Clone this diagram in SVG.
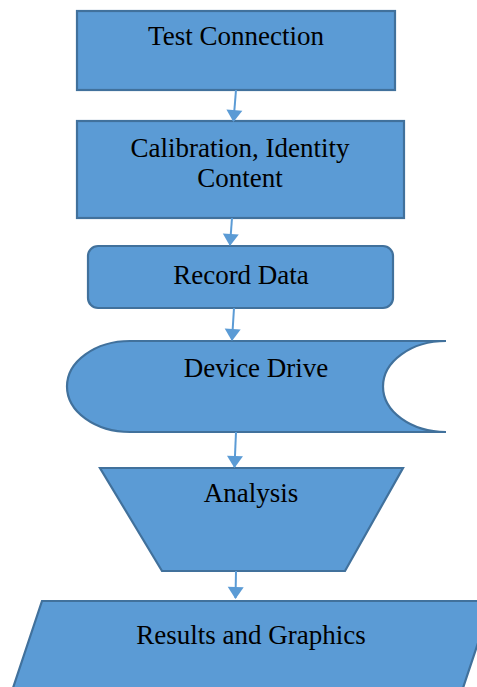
<svg xmlns="http://www.w3.org/2000/svg" width="477" height="687" viewBox="0 0 477 687">
  <style>
    .shape { fill: #5B9BD5; stroke: #41719C; stroke-width: 2.2; }
    .label { font-family: "Liberation Serif", "Times New Roman", serif; font-size: 27px; fill: #000; text-anchor: middle; }
    .link { stroke: #5B9BD5; stroke-width: 2; fill: none; marker-end: url(#arrow); }
  </style>
  <defs>
    <marker id="arrow" markerUnits="userSpaceOnUse" markerWidth="12" markerHeight="16" refX="11" refY="8" orient="auto" overflow="visible">
      <path d="M0,0 L12,8 L0,16 Z" fill="#5B9BD5"/>
    </marker>
  </defs>
  <rect width="477" height="687" fill="#fff"/>

  <g id="test-connection">
    <rect class="shape" x="77" y="11" width="318" height="79"/>
    <text class="label" x="236" y="45">Test Connection</text>
  </g>

  <g id="calibration">
    <rect class="shape" x="77" y="121" width="327" height="97"/>
    <text class="label" x="240" y="157">Calibration, Identity</text>
    <text class="label" x="240" y="187">Content</text>
  </g>

  <g id="record-data">
    <rect class="shape" x="88" y="246" width="305" height="62" rx="10" ry="10"/>
    <text class="label" x="241" y="284">Record Data</text>
  </g>

  <g id="device-drive">
    <path class="shape" d="M130,341 L446,341 A63,45.5 0 0 0 446,432 L130,432 A63,45.5 0 0 1 130,341 Z"/>
    <text class="label" x="256" y="377">Device Drive</text>
  </g>

  <g id="analysis">
    <path class="shape" d="M100,468 L403,468 L345,571 L162,571 Z"/>
    <text class="label" x="251" y="502">Analysis</text>
  </g>

  <g id="results">
    <path class="shape" d="M42,601 L492,601 L463,688 L13,688 Z"/>
    <text class="label" x="251" y="644">Results and Graphics</text>
  </g>

  <g id="connectors">
    <line class="link" x1="236" y1="90" x2="233.5" y2="121"/>
    <line class="link" x1="232" y1="218" x2="230" y2="245"/>
    <line class="link" x1="234" y1="308" x2="232" y2="340"/>
    <line class="link" x1="236" y1="432" x2="234.5" y2="467"/>
    <line class="link" x1="236" y1="571" x2="235.5" y2="598"/>
  </g>
</svg>
